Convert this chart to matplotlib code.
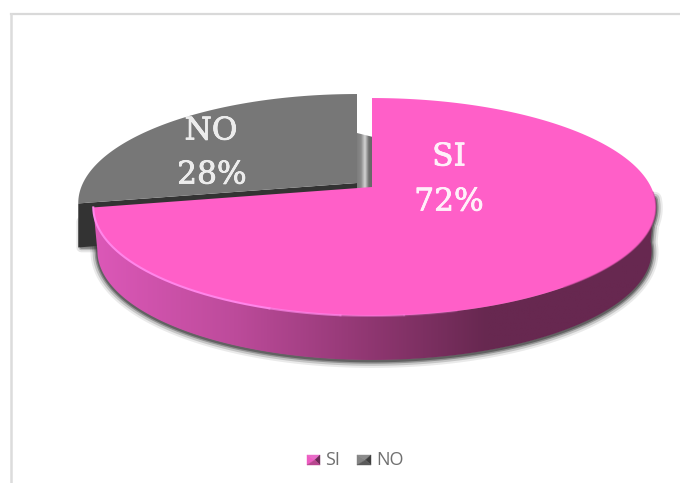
import matplotlib

matplotlib.use("Agg")
import matplotlib.patheffects as pe
import matplotlib.pyplot as plt
import numpy as np
from matplotlib.colors import LinearSegmentedColormap
from matplotlib.patches import Polygon

LABELS = ["SI", "NO"]
VALUES = [72, 28]

PINK = "#ff5fc8"
GREY = "#777777"
LEGEND_TEXT = "#707070"

# pie geometry in image pixels
APEX = (372, 187)
RX_RIGHT, RX_LEFT, RY = 279, 274, 105.3
PERSP = 0.1835  # back of the disc is squeezed, front is stretched
DEPTH = 44
GREY_SHIFT = (-15, -4)

side_cmap = LinearSegmentedColormap.from_list(
    "side",
    [
        (0.00, "#dc58b8"),
        (0.25, "#bd4b9b"),
        (0.50, "#8e3670"),
        (0.70, "#672850"),
        (1.00, "#672850"),
    ],
)
face_cmap = LinearSegmentedColormap.from_list(
    "face", ["#7d7d7d", "#8a8a8a", "#d4d4d4", "#6c6c6c", "#666666"]
)


def project(theta, shift=(0, 0)):
    """Flat disc -> image pixels, with a little perspective."""
    u, v = np.cos(theta), np.sin(theta)
    w = 1 + PERSP * v
    rx = np.where(u >= 0, RX_RIGHT, RX_LEFT)
    return APEX[0] + rx * u / w + shift[0], APEX[1] - RY * v / w + shift[1]


def wedge(a0, a1, shift=(0, 0)):
    th = np.linspace(a0, a1, 200)
    x, y = project(th, shift)
    x = np.r_[APEX[0] + shift[0], x]
    y = np.r_[APEX[1] + shift[1], y]
    return np.column_stack([x, y])


fig = plt.figure(figsize=(6.8, 4.83), dpi=100)
ax = fig.add_axes([0, 0, 1, 1])
ax.axis("off")

# chart frame, only top and left are visible
ax.plot([11, 680], [14, 14], color="#d9d9d9", lw=1.6)
ax.plot([11, 11], [14, 483], color="#dcdcdc", lw=1.8)

total = sum(VALUES)
start = np.pi / 2
pink_end = start - 2 * np.pi * VALUES[0] / total
grey_end = start + 2 * np.pi * VALUES[1] / total

# grey slice, pulled out
gp = wedge(start, grey_end, GREY_SHIFT)
cut = np.array([gp[0], gp[-1], gp[-1] + [0, DEPTH], gp[0] + [0, DEPTH]])
glow = np.array([gp[-1] + [3, 18], gp[-1] + [3, DEPTH], gp[-1] + [22, DEPTH]])
for lw, a in [(7, 0.12), (4, 0.25), (2, 0.4)]:
    ax.add_patch(
        Polygon(glow, closed=True, fc="none", ec="#333333", lw=lw, alpha=a, joinstyle="round")
    )
ax.add_patch(Polygon(cut, closed=True, fc="#333333", ec="none"))
ax.add_patch(Polygon(gp, closed=True, fc=GREY, ec="none"))

# inside cut face seen in the gap between the slices
im = ax.imshow(
    np.linspace(0, 1, 64)[None, :],
    cmap=face_cmap,
    extent=(APEX[0] + GREY_SHIFT[0], APEX[0] + 1, APEX[1] + 3, 133),
    aspect="auto",
    zorder=2,
)
im.set_clip_path(
    Polygon(
        [(357, 133), (373, 137), (373, 190), (357, 190)],
        closed=True,
        transform=ax.transData,
    )
)

# pink slice, outer wall first
th = np.linspace(pink_end, -0.1, 300)
x0, y0 = project(th)
x1 = APEX[0] + (x0 - APEX[0]) * 0.985  # wall leans in a bit toward the bottom
wall = np.r_[np.column_stack([x0, y0]), np.column_stack([x1, y0 + DEPTH])[::-1]]
for lw, a in [(10, 0.1), (7, 0.2), (4, 0.35), (2, 0.5)]:
    ax.add_patch(
        Polygon(
            wall + [0, 1],
            closed=True,
            fc="none",
            ec="#333333",
            lw=lw,
            alpha=a,
            joinstyle="round",
            zorder=3,
        )
    )
wall_patch = Polygon(wall, closed=True, fc="none", ec="none", zorder=4)
ax.add_patch(wall_patch)
im2 = ax.imshow(
    np.linspace(0, 1, 256)[None, :],
    cmap=side_cmap,
    extent=(wall[:, 0].min(), wall[:, 0].max(), 380, 180),
    aspect="auto",
    zorder=4,
)
im2.set_clip_path(wall_patch)

ax.add_patch(Polygon(wedge(start, pink_end), closed=True, fc=PINK, ec="none", zorder=5))

# light rim on the front edge fades out, soft dark one on the right
th = np.linspace(pink_end, -np.pi * 0.6, 200)
ax.plot(*project(th), color="#ff85ea", lw=1.5, zorder=6)
for a0, a1, alpha in [(-0.6, -0.53, 0.7), (-0.53, -0.47, 0.4), (-0.47, -0.42, 0.2)]:
    th = np.linspace(np.pi * a0, np.pi * a1, 60)
    ax.plot(*project(th), color="#ff85ea", lw=1.5, alpha=alpha, zorder=6)
th = np.linspace(-np.pi * 0.3, -0.05, 200)
ax.plot(*project(th), color="#b8408f", lw=1.0, alpha=0.5, zorder=6)


def slice_label(x, y, text, fill):
    t = ax.text(
        x,
        y,
        text,
        family="DejaVu Serif",
        fontsize=22.5,
        color=fill,
        ha="center",
        va="center",
        zorder=7,
    )
    t.set_path_effects([pe.withStroke(linewidth=0.5, foreground="white")])


slice_label(449, 157, LABELS[0], "#fff0fa")
slice_label(449, 202, f"{VALUES[0]}%", "#fff0fa")
slice_label(211, 131, LABELS[1], "#ececec")
slice_label(212, 175, f"{VALUES[1]}%", "#ececec")


def bevel(x, y, w, h, top, left, right, bottom):
    c = (x + w * 0.6, y + h / 2)
    tl, tr = (x, y), (x + w, y)
    bl, br = (x, y + h), (x + w, y + h)
    for pts, col in [
        ((tl, tr, c), top),
        ((tl, bl, c), left),
        ((tr, br, c), right),
        ((bl, br, c), bottom),
    ]:
        ax.add_patch(Polygon(pts, closed=True, fc=col, ec=col, lw=0.3, zorder=7))


# legend
bevel(307, 455, 13, 10, "#e86cc8", "#ee5cc2", "#6d2a58", "#b8468f")
bevel(357, 455, 14, 10, "#8c8c8c", "#848484", "#3e3e3e", "#5a5a5a")
ax.text(325, 460, LABELS[0], family="Open Sans", fontsize=13, color=LEGEND_TEXT, va="center")
ax.text(376, 460, LABELS[1], family="Open Sans", fontsize=13, color=LEGEND_TEXT, va="center")

ax.set_xlim(0, 680)
ax.set_ylim(483, 0)

fig.savefig("out.png", dpi=100, facecolor="white")
